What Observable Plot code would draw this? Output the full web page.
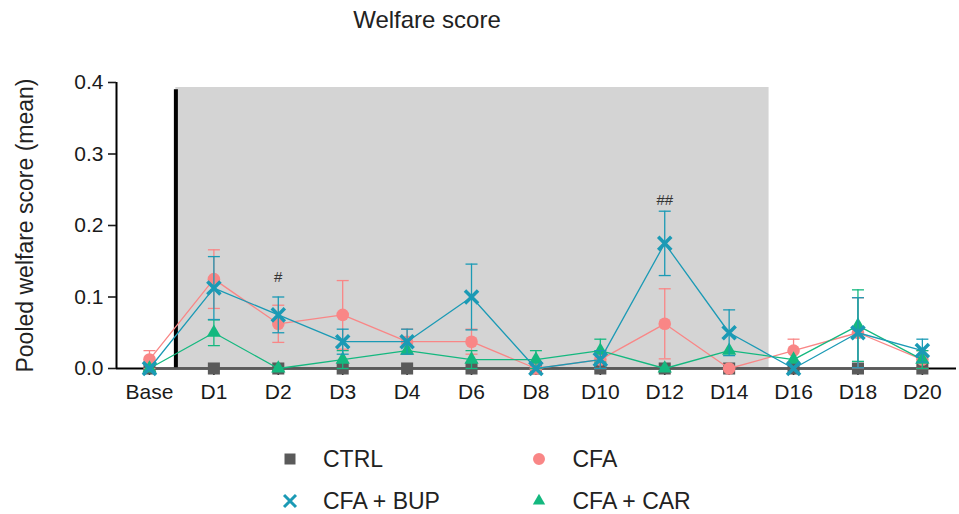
<!DOCTYPE html>
<html><head><meta charset="utf-8">
<script src="https://cdn.jsdelivr.net/npm/d3@7"></script>
<script src="https://cdn.jsdelivr.net/npm/@observablehq/plot@0.6"></script>
<style>
body{margin:0;background:#fff;font-family:"Liberation Sans",Arial,Helvetica,sans-serif;}
#wrap{position:relative;width:959px;height:514px;overflow:hidden;background:#fff;}
#title{position:absolute;left:277px;width:300px;top:8px;text-align:center;font-size:24px;line-height:24px;color:#222;}
#chart{position:absolute;left:0;top:0;}
.lg{position:absolute;font-size:23px;line-height:28px;color:#222;white-space:nowrap;}
.lgs{position:absolute;width:24px;height:24px;overflow:visible;}
</style></head><body>
<div id="wrap"><div id="title">Welfare score</div><div id="chart"></div><div id="legend"></div></div>
<script>
// ---- data ----
const categories = ["Base","D1","D2","D3","D4","D6","D8","D10","D12","D14","D16","D18","D20"];
const groupNames = ["CTRL","CFA","CFA + BUP","CFA + CAR"];
const ctrlMean = [0,0,0,0,0,0,0,0,0,0,0,0,0];
const ctrlSem  = [0,0,0,0,0,0,0,0,0,0,0,0,0];
const cfaMean  = [0.0125,0.125,0.0625,0.075,0.0375,0.0375,0,0.0125,0.0625,0,0.025,0.05,0.0125];
const cfaSem   = [0.0125,0.041,0.026,0.048,0.0175,0.0175,0,0.0125,0.049,0,0.016,0.049,0.0125];
const bupMean  = [0,0.1125,0.075,0.0375,0.0375,0.1,0,0.0125,0.175,0.05,0,0.05,0.025];
const bupSem   = [0,0.044,0.025,0.0175,0.0175,0.046,0,0.0125,0.045,0.032,0,0.049,0.016];
const carMean  = [0,0.05,0,0.0125,0.025,0.0125,0.0125,0.025,0,0.025,0.0125,0.06,0.0125];
const carSem   = [0,0.018,0,0.0125,0,0.0125,0.0125,0.016,0,0,0,0.05,0.0125];
const groupColors = ["#5a5a5a","#f98686","#1b9ab5","#14b87f"];
const yTicks = [0,0.1,0.2,0.3,0.4];
const treatmentWindow = {start:0.41, end:9.62, top:0.393, lineTop:0.39};
const annotations = [{day:"D2", label:"#", y:0.128},{day:"D12", label:"##", y:0.236}];
const yLabel = "Pooled welfare score (mean)";

// ---- chart ----
const series = [
  {name:groupNames[0], mean:ctrlMean, sem:ctrlSem, color:groupColors[0], symbol:"square", r:6.8, filled:true, lw:2.5},
  {name:groupNames[1], mean:cfaMean, sem:cfaSem, color:groupColors[1], symbol:"circle", r:6.3, filled:true, lw:1.3},
  {name:groupNames[3], mean:carMean, sem:carSem, color:groupColors[3], symbol:"triangle", r:5.3, filled:true, lw:1.3},
  {name:groupNames[2], mean:bupMean, sem:bupSem, color:groupColors[2], symbol:"times", r:6, filled:false, lw:1.3}
];
const cap = {draw(ctx, size){ const w = Math.sqrt(size/Math.PI); ctx.moveTo(-w,0); ctx.lineTo(w,0); }};
const xDomain = [-0.512, 12.53];

const marks = [
  Plot.rect([treatmentWindow], {x1:"start", x2:"end", y1:()=>0, y2:"top", fill:"#d4d4d4"}),
  Plot.ruleY([0], {stroke:"#000", strokeWidth:2}),
  Plot.ruleX([xDomain[0]], {stroke:"#000", strokeWidth:2}),
  Plot.ruleX([treatmentWindow], {x:"start", y1:()=>0, y2:"lineTop", stroke:"#000", strokeWidth:4}),
  Plot.axisY({ticks:yTicks, tickFormat:d3.format(".1f"), tickSize:8, tickPadding:5, fontSize:21, strokeWidth:1.6, label:null}),
  Plot.axisX({ticks:categories.map((c,i)=>i), tickFormat:i=>categories[i], tickSize:7, tickPadding:9, fontSize:21, strokeWidth:1.6, label:null}),
  Plot.text([yLabel], {frameAnchor:"left", textAnchor:"middle", dx:-91, rotate:-90, fontSize:23, text:d=>d, fill:"#222"})
];
for (const s of series) {
  const data = categories.map((c,i)=>({i, mean:s.mean[i], sem:s.sem[i]}));
  const err = data.filter(d=>d.sem>0);
  const caps = err.flatMap(d=>[{i:d.i, v:Math.max(0,d.mean-d.sem)},{i:d.i, v:d.mean+d.sem}]);
  marks.push(
    Plot.line(data, {x:"i", y:"mean", stroke:s.color, strokeWidth:s.lw}),
    Plot.ruleX(err, {x:"i", y1:d=>Math.max(0,d.mean-d.sem), y2:d=>d.mean+d.sem, stroke:s.color, strokeWidth:1.3}),
    Plot.dot(caps, {x:"i", y:"v", symbol:cap, r:6, stroke:s.color, strokeWidth:1.3, fill:"none"}),
    Plot.dot(data, {x:"i", y:"mean", symbol:s.symbol, r:s.r,
      fill:s.filled ? s.color : "none", stroke:s.filled ? "none" : s.color, strokeWidth:s.filled ? 0 : 3.5})
  );
}
marks.push(Plot.text(annotations, {x:d=>categories.indexOf(d.day), y:"y", text:"label", fontSize:15, fill:"#333"}));

const plot = Plot.plot({
  width:959, height:420, marginLeft:116, marginRight:3, marginTop:82, marginBottom:52,
  x:{type:"linear", domain:xDomain},
  y:{domain:[0,0.4]},
  style:{fontFamily:"'Liberation Sans', Arial, sans-serif", fontSize:"21px", color:"#1a1a1a", background:"transparent", overflow:"visible"},
  marks
});
document.getElementById("chart").appendChild(plot);

// ---- legend ----
const legendItems = [
  {name:groupNames[0], color:groupColors[0], type:d3.symbolSquare, size:121, filled:true},
  {name:groupNames[1], color:groupColors[1], type:d3.symbolCircle, size:113, filled:true},
  {name:groupNames[2], color:groupColors[2], type:d3.symbolTimes, size:95, filled:false},
  {name:groupNames[3], color:groupColors[3], type:d3.symbolTriangle, size:66, filled:true}
];
const legendPos = [[289.5,458.5],[539,458.5],[289.5,500.5],[539,500.5]];
const lg = document.getElementById("legend");
legendItems.forEach((it,k)=>{
  const [cx,cy] = legendPos[k];
  const ns = "http://www.w3.org/2000/svg";
  const svg = document.createElementNS(ns,"svg");
  svg.setAttribute("class","lgs");
  svg.setAttribute("width",24); svg.setAttribute("height",24);
  svg.style.left = (cx-12)+"px"; svg.style.top = (cy-12)+"px";
  const p = document.createElementNS(ns,"path");
  p.setAttribute("d", d3.symbol(it.type, it.size)());
  p.setAttribute("transform","translate(12,12)");
  if (it.filled) { p.setAttribute("fill", it.color); }
  else { p.setAttribute("fill","none"); p.setAttribute("stroke", it.color); p.setAttribute("stroke-width", 3); }
  svg.appendChild(p);
  lg.appendChild(svg);
  const t = document.createElement("div");
  t.className = "lg"; t.textContent = it.name;
  t.style.left = (cx+33.5)+"px"; t.style.top = (cy-14)+"px";
  lg.appendChild(t);
});
</script>
</body></html>
